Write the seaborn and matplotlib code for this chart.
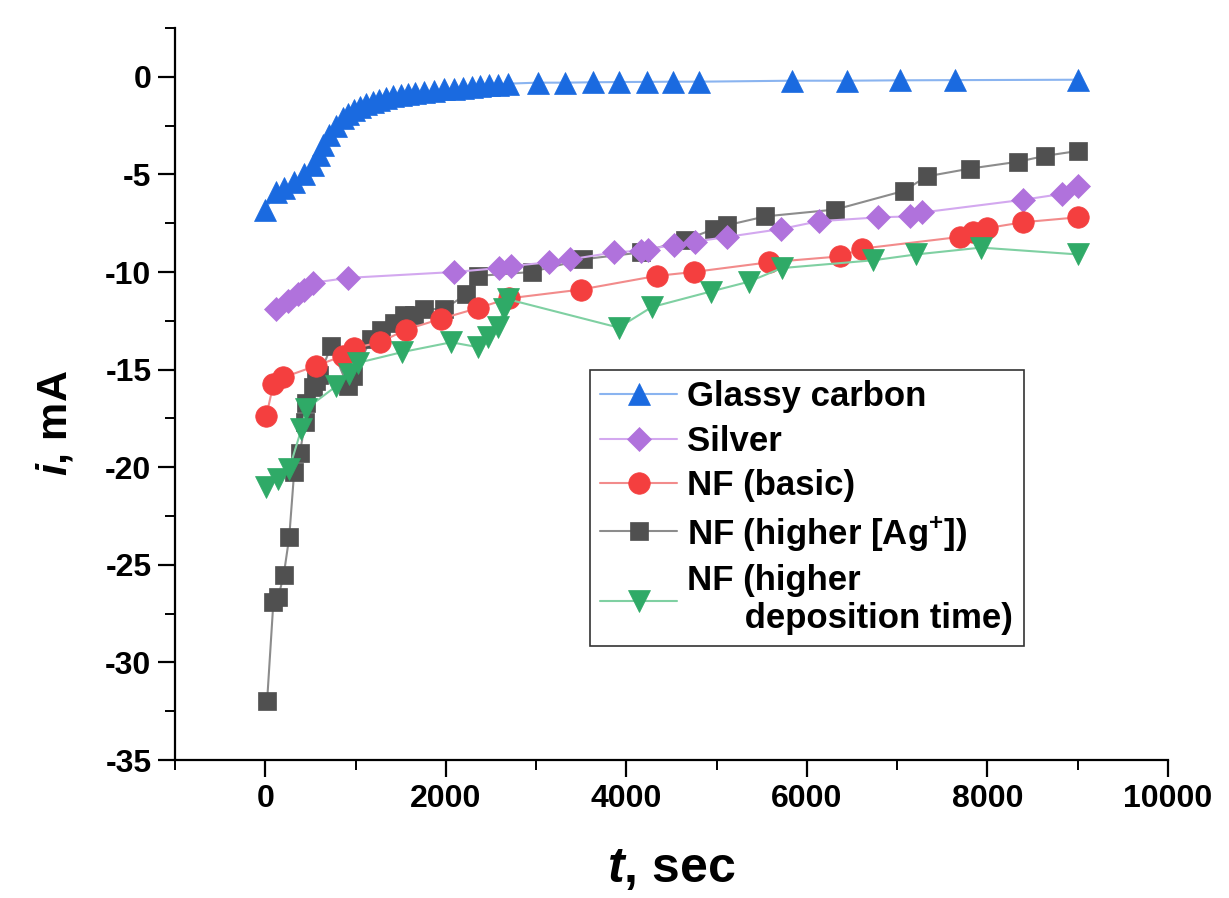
import matplotlib
matplotlib.use("Agg")
import matplotlib.pyplot as plt
import seaborn as sns
import numpy as np
import pandas as pd
from matplotlib.ticker import MultipleLocator

# ---------------- data ----------------
gc_t = [0, 120, 210, 320, 430, 530, 590, 640, 710, 785, 860, 920, 980, 1050, 1120,
        1190, 1260, 1340, 1420, 1500, 1580, 1660, 1760, 1870, 1980, 2090, 2190, 2290,
        2380, 2480, 2580, 2690, 3020, 3320, 3630, 3915, 4225, 4520, 4810, 5840, 6440,
        7035, 7640, 9000]
gc_i = [-6.8, -5.9, -5.7, -5.4, -5.0, -4.5, -4.0, -3.5, -3.0, -2.5, -2.1, -1.9, -1.7,
        -1.55, -1.4, -1.3, -1.2, -1.1, -1.0, -0.95, -0.9, -0.85, -0.8, -0.72, -0.65,
        -0.6, -0.55, -0.5, -0.47, -0.44, -0.4, -0.35, -0.3, -0.3, -0.28, -0.27, -0.26,
        -0.25, -0.25, -0.2, -0.2, -0.18, -0.17, -0.15]

ag_t = [120, 250, 365, 430, 530, 920, 2090, 2590, 2720, 3140, 3380, 3860, 4160, 4235,
        4525, 4755, 5120, 5710, 6130, 6790, 7145, 7280, 8395, 8825, 9000]
ag_i = [-11.9, -11.5, -11.15, -10.9, -10.55, -10.3, -10.0, -9.8, -9.7, -9.5, -9.35,
        -9.0, -8.9, -8.85, -8.6, -8.45, -8.2, -7.8, -7.4, -7.2, -7.15, -6.95, -6.3,
        -6.0, -5.6]

nfb_t = [10, 90, 200, 565, 860, 985, 1270, 1560, 1945, 2355, 2700, 3495, 4335, 4745,
         5585, 6370, 6615, 7700, 7840, 8000, 8395, 9000]
nfb_i = [-17.4, -15.75, -15.4, -14.8, -14.3, -13.9, -13.6, -12.95, -12.4, -11.85,
         -11.35, -10.9, -10.2, -10.0, -9.5, -9.2, -8.8, -8.2, -7.95, -7.75, -7.45, -7.2]

nfa_t = [20, 90, 145, 205, 265, 320, 385, 440, 455, 530, 565, 600, 730, 915, 970, 1170,
         1280, 1430, 1540, 1650, 1760, 1980, 2225, 2355, 2950, 3515, 4160, 4655, 4970,
         5120, 5540, 6315, 7070, 7330, 7810, 8340, 8640, 9000]
nfa_i = [-32.0, -26.9, -26.65, -25.5, -23.6, -20.25, -19.25, -17.7, -16.7, -15.9,
         -15.6, -15.3, -13.8, -15.85, -15.35, -13.45, -12.95, -12.6, -12.2, -12.2,
         -11.9, -11.9, -11.15, -10.2, -10.0, -9.35, -9.0, -8.35, -7.8, -7.6, -7.15,
         -6.8, -5.85, -5.1, -4.7, -4.35, -4.05, -3.8]

nfd_t = [10, 140, 265, 400, 455, 785, 930, 1030, 1520, 2060, 2355, 2465, 2575, 2645,
         2690, 3915, 4280, 4935, 5355, 5720, 6735, 7210, 7930, 9000]
nfd_i = [-21.0, -20.6, -20.1, -18.05, -17.0, -15.85, -15.25, -14.65, -14.1, -13.6,
         -13.85, -13.35, -12.8, -11.9, -11.4, -12.85, -11.8, -11.0, -10.5, -9.8, -9.4,
         -9.1, -8.75, -9.1]

labels = ["Glassy carbon", "Silver", "NF (basic)", r"NF (higher [Ag$^{\mathbf{+}}$])",
          "NF (higher\n      deposition time)"]
x_ticks = [0, 2000, 4000, 6000, 8000, 10000]
y_ticks = [0, -5, -10, -15, -20, -25, -30, -35]

# ---------------- style ----------------
sns.set_theme(style="white")
plt.rcParams["font.family"] = ["Liberation Sans", "DejaVu Sans"]
plt.rcParams["font.weight"] = "bold"
plt.rcParams["text.color"] = "black"
plt.rcParams["axes.labelcolor"] = "black"
plt.rcParams["xtick.color"] = "black"
plt.rcParams["ytick.color"] = "black"
plt.rcParams["mathtext.fontset"] = "custom"
plt.rcParams["mathtext.rm"] = "Liberation Sans:bold"
plt.rcParams["mathtext.bf"] = "Liberation Sans:bold"
plt.rcParams["mathtext.it"] = "Liberation Sans:bold:italic"
plt.rcParams["mathtext.bfit"] = "Liberation Sans:bold:italic"

fig = plt.figure(figsize=(12.29, 8.98), dpi=100)
ax = fig.add_axes([175 / 1229, 138 / 898, (1168 - 175) / 1229, (760 - 28) / 898])

series = [
    (nfa_t, nfa_i, labels[3], "s", "#505050", "#8c8c8c", 13.5, 2),
    (ag_t, ag_i, labels[1], "D", "#b072dc", "#d3a8ef", 12.5, 3),
    (nfb_t, nfb_i, labels[2], "o", "#f43f3f", "#f28b8b", 15.5, 4),
    (nfd_t, nfd_i, labels[4], "v", "#2faa67", "#7fd0a2", 16, 5),
    (gc_t, gc_i, labels[0], "^", "#1a6ae0", "#8ab4f0", 16, 6),
]
for t, i, lab, mk, mc, lc, ms, z in series:
    df = pd.DataFrame({"t": t, "i": i})
    sns.lineplot(data=df, x="t", y="i", ax=ax, sort=False, estimator=None,
                 color=lc, linewidth=1.5, marker=mk, markersize=ms,
                 markerfacecolor=mc, markeredgecolor=mc, markeredgewidth=0.5,
                 label=lab, zorder=z)

ax.set_xlim(-1000, 10000)
ax.set_ylim(-35, 2.5)
ax.set_xticks(x_ticks)
ax.set_yticks(y_ticks)
ax.xaxis.set_minor_locator(MultipleLocator(1000))
ax.yaxis.set_minor_locator(MultipleLocator(2.5))
ax.set_xticklabels([str(v) for v in x_ticks], fontsize=23, fontweight="bold")
ax.set_yticklabels([str(v) for v in y_ticks], fontsize=23, fontweight="bold")
ax.tick_params(axis="both", which="major", direction="out", length=12, width=1.6,
               color="black", bottom=True, left=True, pad=5)
ax.tick_params(axis="both", which="minor", direction="out", length=7, width=1.4,
               color="black", bottom=True, left=True)
for s in ["top", "right"]:
    ax.spines[s].set_visible(False)
for s in ["left", "bottom"]:
    ax.spines[s].set_color("black")
    ax.spines[s].set_linewidth(1.6)

ax.set_xlabel(r"$\mathbfit{t}$, sec", fontsize=36, fontweight="bold")
ax.set_ylabel(r"$\mathbfit{i}$, mA", fontsize=31, fontweight="bold")
ax.xaxis.set_label_coords(0.5, -0.118)
ax.yaxis.set_label_coords(-0.10, 0.46)

h, l = ax.get_legend_handles_labels()
order = [labels.index(x) for x in l]
pairs = sorted(zip(order, h, l))
leg = ax.legend([p[1] for p in pairs], [p[2] for p in pairs],
                loc="upper left", bbox_to_anchor=(0.418, 0.533), borderaxespad=0,
                frameon=True, fancybox=False, edgecolor="#333333", framealpha=1,
                prop={"family": "Liberation Sans", "weight": "bold", "size": 25},
                handlelength=2.2, handletextpad=0.3, labelspacing=0.33,
                borderpad=0.3)
leg.get_frame().set_linewidth(1.2)

fig.savefig("out.png", dpi=100)
